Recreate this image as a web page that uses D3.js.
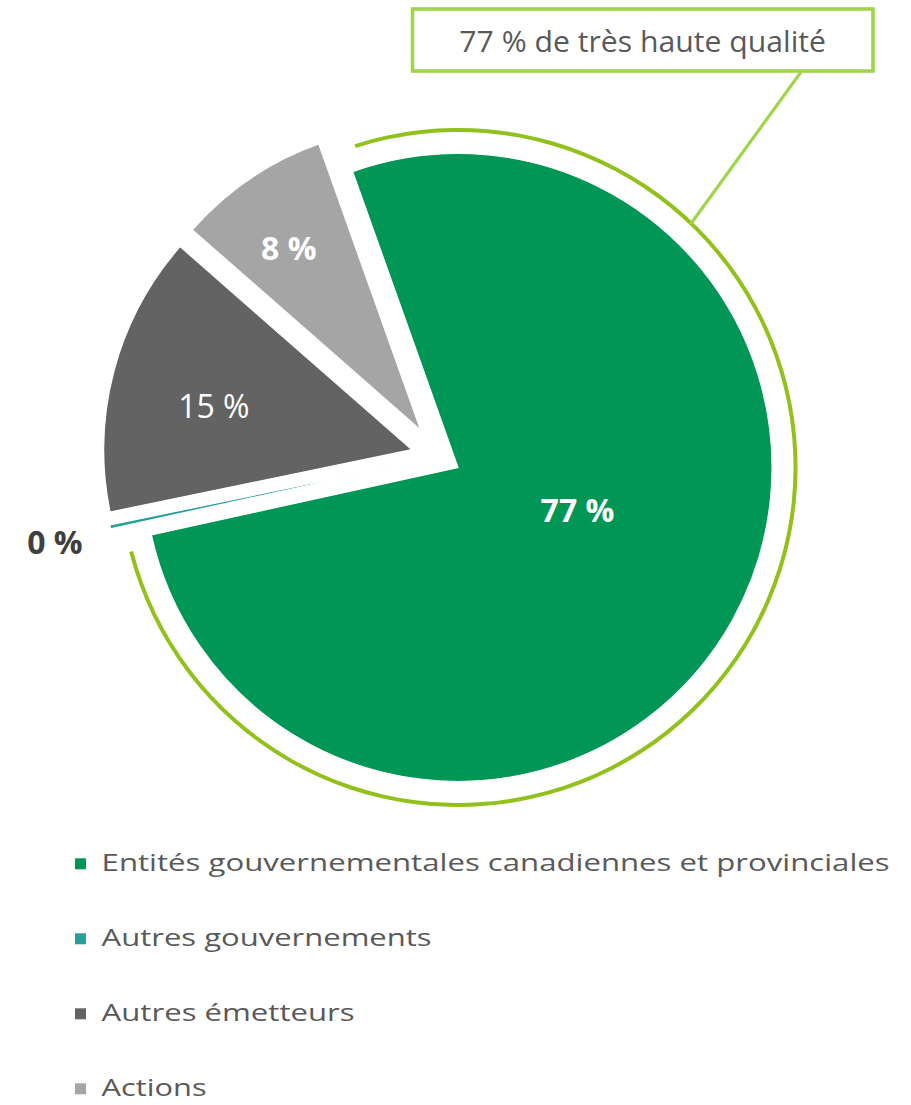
<!DOCTYPE html>
<html><head><meta charset="utf-8">
<script src="https://cdn.jsdelivr.net/npm/d3@7"></script>
<style>body{margin:0;background:#fff}svg{display:block}</style>
</head><body>
<svg id="chart" width="911" height="1105"></svg>
<script>
// ---- data ----
const categories = [
  "Entités gouvernementales canadiennes et provinciales",
  "Autres gouvernements",
  "Autres émetteurs",
  "Actions"
];
const values = [77.0, 0.2, 14.7, 8.1];
const calloutText = "77 % de très haute qualité";

// ---- styles / layout ----
const colors = ["#009655", "#26a09a", "#636363", "#a5a5a5"];
const labelColors = ["#ffffff", "#404040", "#ffffff", "#ffffff"];
const labelWeights = [700, 700, 400, 700];
const explode = [22, 28, 28, 32.5];
const labelPolar = [[-9.4, 126.8], [-0.55, 365.3], [-2.4, 202.6], [-1.8, 224.3]];
const legendWidths = [788, 330, 253, 105];
const cx = 438.8, cy = 456.8, extent = 336;
const deg = Math.PI / 180;
const startAngle = -19.6 * deg;

const svg = d3.select("#chart");
const font = "'Open Sans', 'Noto Sans', sans-serif";
const dir = a => [Math.sin(a), -Math.cos(a)];

const pie = d3.pie().sort(null).value(d => d)
  .startAngle(startAngle).endAngle(startAngle + 2 * Math.PI);
const arcs = pie(values);

const g = svg.append("g").attr("transform", `translate(${cx},${cy})`);

const slices = arcs.map((a, i) => {
  const mid = (a.startAngle + a.endAngle) / 2;
  const [dx, dy] = dir(mid);
  return {a, i, ox: dx * explode[i], oy: dy * explode[i], r: extent - explode[i], mid};
});

g.selectAll("path.slice").data(slices).join("path")
  .attr("class", "slice")
  .attr("transform", d => `translate(${d.ox},${d.oy})`)
  .attr("d", d => d3.arc().innerRadius(0).outerRadius(d.r)(d.a))
  .attr("fill", d => colors[d.i])
  .attr("stroke", "#ffffff")
  .attr("stroke-width", 1.2)
  .attr("stroke-linejoin", "miter");

// ring around the first slice
const s0 = slices[0];
const ringR = 337.5;
const ring = d3.arc().innerRadius(ringR - 2).outerRadius(ringR + 2)
  .startAngle(s0.a.startAngle + 1.85 * deg)
  .endAngle(s0.a.endAngle - 2.0 * deg);
g.append("path")
  .attr("transform", `translate(${s0.ox},${s0.oy})`)
  .attr("d", ring())
  .attr("fill", "#92c11c");

// labels
const fmt = v => Math.round(v) + " %";
g.selectAll("text.lbl").data(slices).join("text")
  .attr("class", "lbl")
  .each(function(d) {
    const [ang, r] = labelPolar[d.i];
    const [dx, dy] = dir(d.mid + ang * deg);
    d3.select(this)
      .attr("x", d.ox + dx * r)
      .attr("y", d.oy + dy * r);
  })
  .attr("dy", "0.36em")
  .attr("text-anchor", "middle")
  .attr("font-family", font)
  .attr("font-size", 32)
  .attr("font-weight", d => labelWeights[d.i])
  .attr("fill", d => labelColors[d.i])
  .text(d => fmt(values[d.i]));

// callout box + connector
const boxX = 412.5, boxY = 9, boxW = 460.5, boxH = 62;
const [ex, ey] = dir(43.7 * deg);
svg.append("line")
  .attr("x1", 801.7).attr("y1", boxY + boxH)
  .attr("x2", cx + s0.ox + ex * (ringR - 1)).attr("y2", cy + s0.oy + ey * (ringR - 1))
  .attr("stroke", "#9fd54a").attr("stroke-width", 3.2);
svg.append("rect")
  .attr("x", boxX).attr("y", boxY).attr("width", boxW).attr("height", boxH)
  .attr("fill", "#fff").attr("stroke", "#9fd54a").attr("stroke-width", 3.6);
svg.append("text")
  .attr("x", 459.3).attr("y", 51.7)
  .attr("font-family", font).attr("font-size", 29)
  .attr("fill", "#595959")
  .attr("textLength", 366.7).attr("lengthAdjust", "spacingAndGlyphs")
  .text(calloutText);

// legend
const leg = svg.append("g");
const rows = leg.selectAll("g").data(categories).join("g")
  .attr("transform", (d, i) => `translate(0,${870.5 + i * 75})`);
rows.append("rect")
  .attr("x", 75).attr("y", -12.2).attr("width", 11).attr("height", 11)
  .attr("fill", (d, i) => colors[i]);
rows.append("text")
  .attr("x", 101.6).attr("y", 0)
  .attr("font-family", font).attr("font-size", 24.5)
  .attr("fill", "#595959")
  .attr("textLength", (d, i) => legendWidths[i]).attr("lengthAdjust", "spacingAndGlyphs")
  .text(d => d);
</script>
</body></html>
